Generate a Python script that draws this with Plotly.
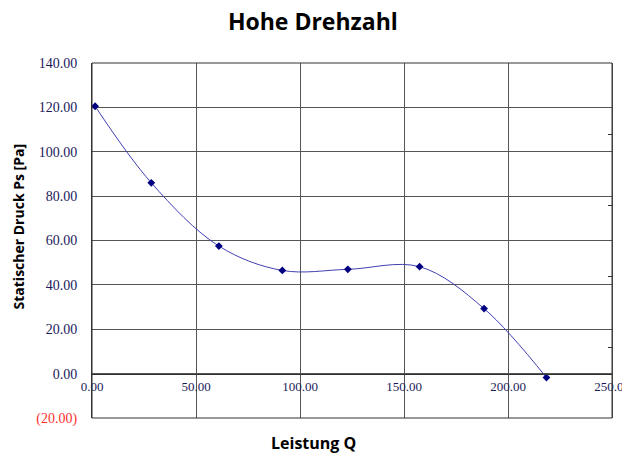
import plotly.graph_objects as go

# Data
leistung_q = [1.5, 28.5, 61.0, 91.5, 123.0, 157.5, 188.5, 218.5]
druck_ps = [120.5, 86.0, 57.5, 46.5, 47.0, 48.2, 29.3, -1.8]

y_tickvals = [-20, 0, 20, 40, 60, 80, 100, 120, 140]
y_ticktext = ['<span style="color:#ff3030">(20.00)</span>', "0.00", "20.00", "40.00",
              "60.00", "80.00", "100.00", "120.00", "140.00"]
x_tickvals = [0, 50, 100, 150, 200, 250]
x_ticktext = ["0.00", "50.00", "100.00", "150.00", "200.00", "250.00"]

Y_MIN, Y_MAX = -20, 140
X_MIN, X_MAX = 0, 250

fig = go.Figure()
fig.add_trace(go.Scatter(
    x=leistung_q, y=druck_ps, mode="lines+markers",
    line=dict(color="#4040b0", width=1, shape="spline", smoothing=1.0),
    marker=dict(symbol="diamond", size=6, color="#000080"),
    showlegend=False, cliponaxis=False,
))

zero_frac = (0 - Y_MIN) / (Y_MAX - Y_MIN)

fig.update_layout(
    width=622, height=457,
    margin=dict(l=92, r=10, t=63, b=39, autoexpand=False),
    paper_bgcolor="white", plot_bgcolor="white",
    title=dict(text="<b>Hohe Drehzahl</b>", x=0.503, xanchor="center", y=0.952, yanchor="middle",
               font=dict(family="Open Sans", size=23, color="black"), automargin=False),
    xaxis=dict(
        range=[X_MIN, X_MAX], tickvals=x_tickvals, ticktext=x_ticktext,
        showgrid=True, gridcolor="#555555", gridwidth=1,
        zeroline=False, showline=True, linecolor="#333333", linewidth=1,
        anchor="free", position=zero_frac, ticks="", ticklabelstandoff=1,
        automargin=False, ticklabeloverflow="allow",
        tickfont=dict(family="Liberation Serif", size=13, color="#1a1a5a"),
    ),
    yaxis=dict(
        range=[Y_MIN, Y_MAX], tickvals=y_tickvals, ticktext=y_ticktext,
        showgrid=True, gridcolor="#555555", gridwidth=1,
        zeroline=False, showline=True, linecolor="#333333", linewidth=1,
        ticks="", ticklabelstandoff=11, automargin=False,
        tickfont=dict(family="Liberation Serif", size=14, color="#1a1a5a"),
    ),
    yaxis2=dict(
        range=[0, 5], dtick=1, overlaying="y", side="right", anchor="x",
        showgrid=False, zeroline=False, showline=True, linecolor="#555555",
        ticks="inside", ticklen=4, tickcolor="#333333", showticklabels=False,
        automargin=False,
    ),
    shapes=[dict(type="rect", xref="paper", yref="paper", x0=0, x1=1, y0=0, y1=1,
                 line=dict(color="#333333", width=1), fillcolor="rgba(0,0,0,0)")],
    annotations=[
        dict(text="<b>Statischer Druck Ps [Pa]</b>", xref="paper", yref="paper",
             x=-0.142, y=0.54, textangle=-90, showarrow=False, xanchor="center", yanchor="middle",
             font=dict(family="Open Sans", size=14, color="black")),
        dict(text="<b>Leistung Q</b>", xref="paper", yref="paper",
             x=0.425, y=-0.107, showarrow=False, xanchor="center", yanchor="bottom",
             font=dict(family="Open Sans", size=16, color="black")),
    ],
)
# invisible trace to activate y2
fig.add_trace(go.Scatter(x=[None], y=[None], yaxis="y2", showlegend=False))

fig.write_html("out.html", config={"displayModeBar": False},
               post_script="document.body.style.margin='0';")
